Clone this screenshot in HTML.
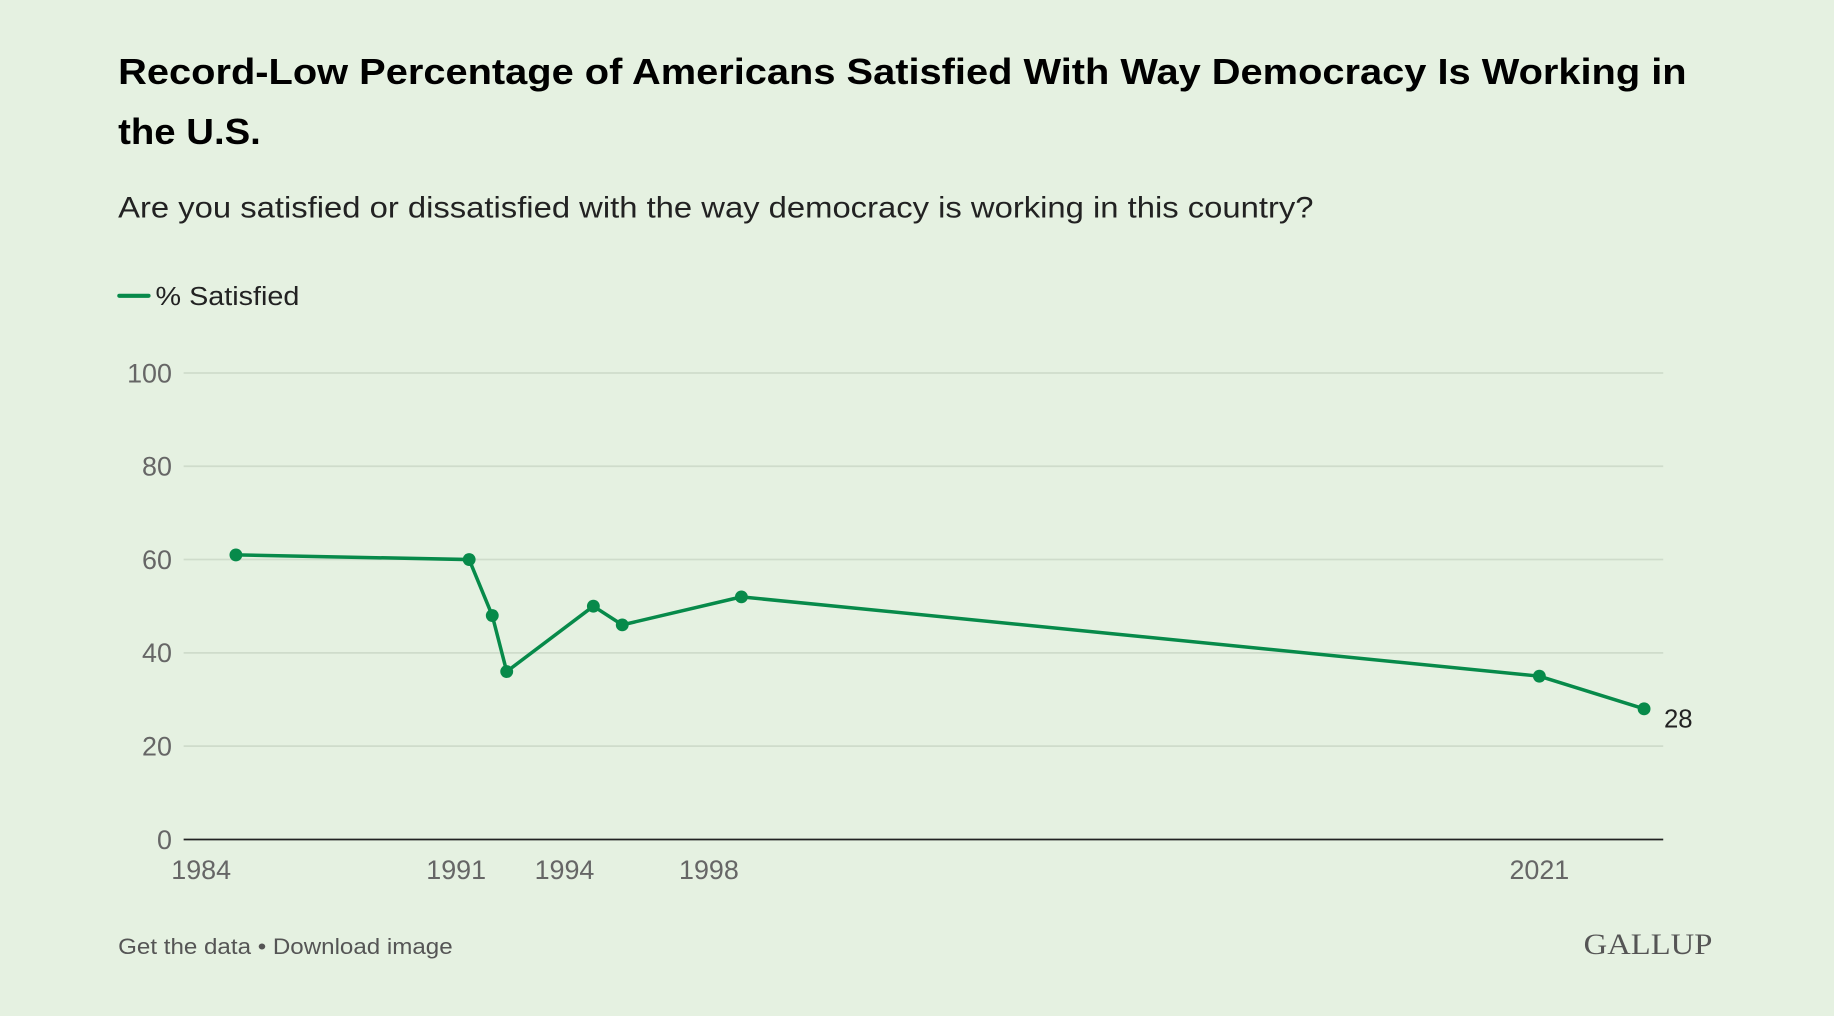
<!DOCTYPE html>
<html><head><meta charset="utf-8"><style>
html,body{margin:0;padding:0;background:#e5f1e1;}
svg{display:block;}
</style></head><body>
<svg id="chart" width="1834" height="1016" viewBox="0 0 1568 869" preserveAspectRatio="none" xmlns="http://www.w3.org/2000/svg" font-family="Liberation Sans, sans-serif">
<rect width="1568" height="869" fill="#e5f1e1"/>
<text x="101" y="72" font-size="31" font-weight="bold" fill="#000" textLength="1341" lengthAdjust="spacingAndGlyphs">Record-Low Percentage of Americans Satisfied With Way Democracy Is Working in</text>
<text x="101" y="123" font-size="31" font-weight="bold" fill="#000" textLength="122" lengthAdjust="spacingAndGlyphs">the U.S.</text>
<text x="101" y="186" font-size="25" fill="#222" textLength="1022" lengthAdjust="spacingAndGlyphs">Are you satisfied or dissatisfied with the way democracy is working in this country?</text>
<g>
<line x1="102" y1="253" x2="127" y2="253" stroke="#078a4a" stroke-width="3.5" stroke-linecap="round"/>
<text x="133" y="261" font-size="22" fill="#222" textLength="123" lengthAdjust="spacingAndGlyphs">% Satisfied</text>
</g>
<g id="grid"></g><g id="axes"></g><g id="series"></g>
<text x="101" y="816" font-size="19" fill="#555" textLength="286" lengthAdjust="spacingAndGlyphs">Get the data • Download image</text>
<text x="1354" y="816" font-size="25" fill="#555" style="font-family:'Liberation Serif',serif" textLength="110" lengthAdjust="spacingAndGlyphs">GALLUP</text>
</svg>
<script>
const years=[1984.9,1991.36,1992.0,1992.4,1994.8,1995.6,1998.9,2021.0,2023.9];
const values=[61,60,48,36,50,46,52,35,28];
const yTicks=[0,20,40,60,80,100];
const xTickYears=[1984,1991,1994,1998,2021];
const xTickLabels=["1984","1991","1994","1998","2021"];
const NS="http://www.w3.org/2000/svg";
const x=y=>390+(y-1991)*30.87;
const yS=v=>718-v*3.99;
function mk(t,a,p){const e=document.createElementNS(NS,t);for(const k in a)e.setAttribute(k,a[k]);p.appendChild(e);return e;}
const grid=document.getElementById('grid'),axes=document.getElementById('axes'),series=document.getElementById('series');
yTicks.forEach(v=>{
 const l=mk('line',{x1:157,x2:1422,y1:yS(v),y2:yS(v),stroke:v===0?'#222':'#cfdccb','stroke-width':1.5},grid);
 
 
 const t=mk('text',{x:147,y:yS(v)+8,'font-size':23,fill:'#666','text-anchor':'end'},axes);
 t.textContent=v;
 
 
});
xTickYears.forEach((yr,i)=>{
 const t=mk('text',{x:i===0?172:x(yr),y:752,'font-size':23,fill:'#666','text-anchor':'middle'},axes);
 t.textContent=xTickLabels[i];
 
 
});
const path=mk('polyline',{points:years.map((yr,i)=>x(yr)+','+yS(values[i])).join(' '),fill:'none',stroke:'#078a4a','stroke-width':3,'stroke-linejoin':'round'},series);


years.forEach((yr,i)=>{
 const c=mk('circle',{cx:x(yr),cy:yS(values[i]),r:5.5,fill:'#078a4a'},series);
 
 
});
const li=years.length-1;
const lab=mk('text',{x:x(years[li])+17,y:yS(values[li])+16,'font-size':22,fill:'#222'},series);
lab.textContent=values[li];


</script>
</body></html>
